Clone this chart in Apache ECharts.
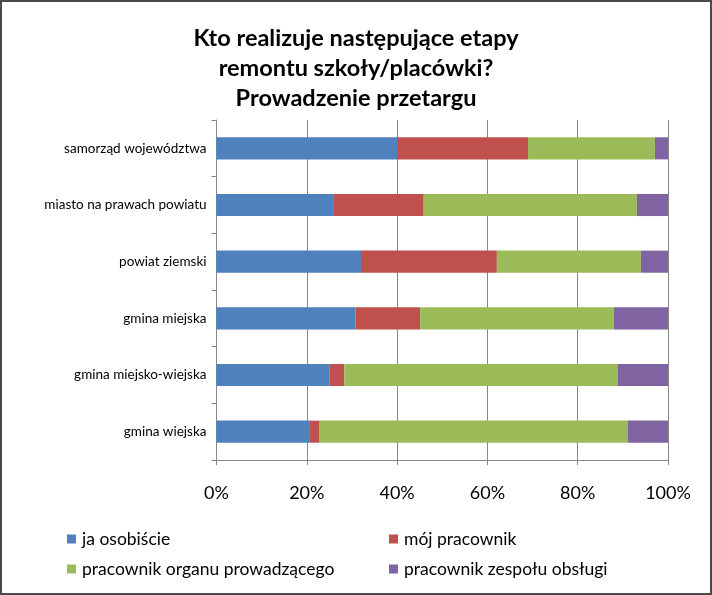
<!DOCTYPE html>
<html><head><meta charset="utf-8">
<script src="https://cdn.jsdelivr.net/npm/echarts@6/dist/echarts.min.js"></script>
<style>
html,body{margin:0;padding:0;background:#fff;}
#c{width:712px;height:595px;box-sizing:border-box;border:2px solid #4a4a4a;}
</style></head><body>
<div id="c"></div>
<script>
var categories = ['gmina wiejska','gmina miejsko-wiejska','gmina miejska','powiat ziemski','miasto na prawach powiatu','samorząd województwa'];
var seriesNames = ['ja osobiście','mój pracownik','pracownik organu prowadzącego','pracownik zespołu obsługi'];
var jaOsobiscie = [20.7, 25.1, 30.8, 32.0, 26.0, 40.0];
var mojPracownik = [2.0, 3.2, 14.3, 30.1, 19.9, 29.0];
var pracOrganu = [68.4, 60.5, 42.9, 31.9, 47.2, 28.1];
var pracZespolu = [8.9, 11.2, 12.0, 6.0, 6.9, 2.9];
var xTicks = ['0%','20%','40%','60%','80%','100%'];
var colors = ['#4f81bd','#c0504d','#9bbb59','#8064a2'];
var values = [jaOsobiscie, mojPracownik, pracOrganu, pracZespolu];

var chart = echarts.init(document.getElementById('c'));
var font = 'Lato, "Open Sans", sans-serif';
var legendPos = [[65,528],[387,528],[65,558],[387,558]];
var option = {
  animation:false,
  title:{text:'Kto realizuje następujące etapy\nremontu szkoły/placówki?\nProwadzenie przetargu',left:'center',top:16,
    textStyle:{fontFamily:font,fontSize:23.5,fontWeight:'bold',color:'#000',lineHeight:30}},
  grid:{left:214.5,right:42,top:118,bottom:133},
  xAxis:{type:'value',min:0,max:100,interval:20,
    axisLine:{show:true,lineStyle:{color:'#868686'}},
    axisTick:{show:true,length:5,lineStyle:{color:'#868686'}},
    splitLine:{show:true,lineStyle:{color:'#868686'}},
    axisLabel:{fontFamily:font,fontSize:18,color:'#000',margin:24,formatter:function(v){return xTicks[v/20];}}},
  yAxis:{type:'category',data:categories,
    axisLine:{show:true,lineStyle:{color:'#868686'}},
    axisTick:{show:true,length:5,lineStyle:{color:'#868686'}},
    axisLabel:{fontFamily:font,fontSize:13.5,color:'#000',margin:10}},
  legend: seriesNames.map(function(n,i){return {data:[n],left:legendPos[i][0],top:legendPos[i][1],itemWidth:9,itemHeight:9,itemGap:6,icon:'rect',padding:0,
    textStyle:{fontFamily:font,fontSize:17.5,color:'#000',padding:[0,0,0,1]}};}),
  series: seriesNames.map(function(n,i){return {name:n,type:'bar',stack:'a',barWidth:'39%',data:values[i],itemStyle:{color:colors[i]}};})
};
chart.setOption(option);
</script></body></html>
